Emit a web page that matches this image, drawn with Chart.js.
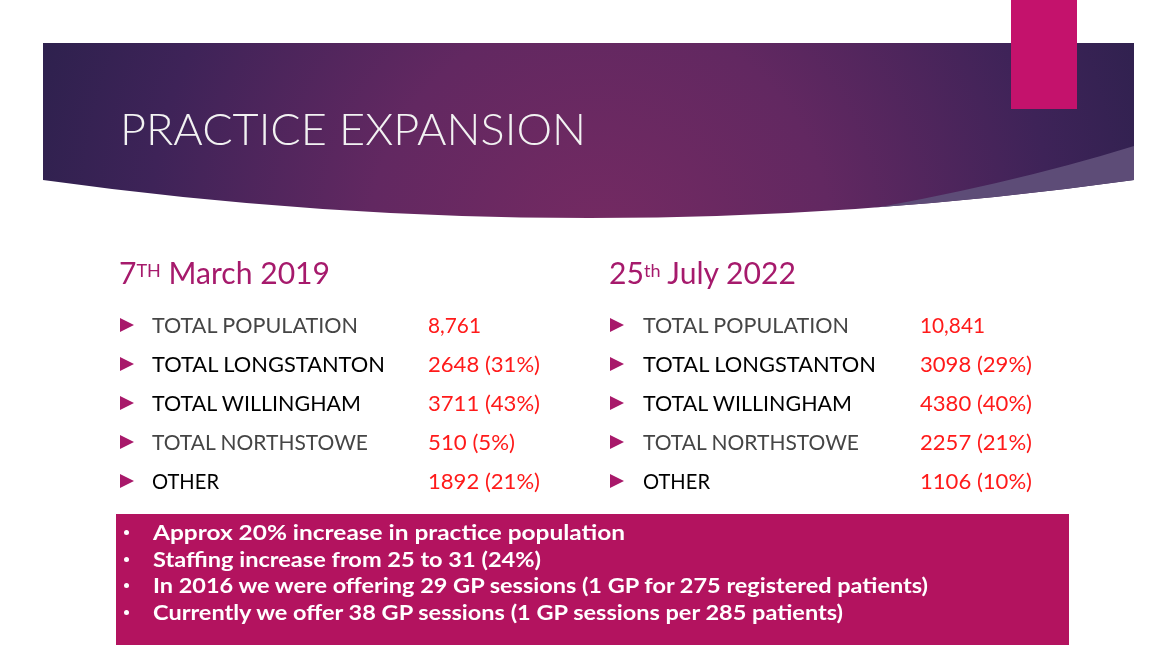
<!DOCTYPE html>
<html>
<head>
<meta charset="utf-8">
<script src="https://cdn.jsdelivr.net/npm/chart.js@4/dist/chart.umd.min.js"></script>
<style>
  html,body{margin:0;padding:0;background:#fff;}
  body{width:1176px;height:658px;position:relative;overflow:hidden;font-family:"Lato","Open Sans",sans-serif;}
  #bg{position:absolute;left:0;top:0;}
  .t{position:absolute;white-space:nowrap;display:inline-block;transform-origin:0 50%;}
  .title{color:#f2f2f2;font-weight:300;font-size:44px;}
  .head{color:#a61a6c;font-size:30px;font-weight:400;}
  .head sup{font-size:18px;vertical-align:top;position:relative;top:-2px;}
  .lab{font-size:22px;font-weight:400;}
  .val{font-size:22px;color:#ff1a1a;font-weight:400;}
  .tri{position:absolute;width:0;height:0;border-top:7px solid transparent;border-bottom:7px solid transparent;border-left:14px solid #a8196a;}
  .note{color:#fff;font-weight:700;font-size:21px;}
  .dot{position:absolute;width:5px;height:5px;border-radius:50%;background:#fff;}
</style>
</head>
<body>
<canvas id="bg" width="1176" height="658"></canvas>
<div id="layer"></div>
<script>
// ---- data ----
const titleText = 'PRACTICE EXPANSION';
const headLeft = ['7', 'TH', ' March 2019'];
const headRight = ['25', 'th', ' July 2022'];
const rowLabels = ['TOTAL POPULATION', 'TOTAL LONGSTANTON', 'TOTAL WILLINGHAM', 'TOTAL NORTHSTOWE', 'OTHER'];
const rowGrey = [true, false, false, true, false];
const values2019 = ['8,761', '2648 (31%)', '3711 (43%)', '510 (5%)', '1892 (21%)'];
const values2022 = ['10,841', '3098 (29%)', '4380 (40%)', '2257 (21%)', '1106 (10%)'];
const notes = [
  'Approx 20% increase in practice population',
  'Staffing increase from 25 to 31 (24%)',
  'In 2016 we were offering 29 GP sessions (1 GP for 275 registered patients)',
  'Currently we offer 38 GP sessions (1 GP sessions per 285 patients)'
];

// ---- background drawn through Chart.js canvas ----
const slidePlugin = {
  id: 'slide',
  beforeDraw(chart) {
    const c = chart.ctx;
    c.save();
    // banner
    c.beginPath();
    c.moveTo(43, 43); c.lineTo(1134, 43); c.lineTo(1134, 180);
    c.quadraticCurveTo(590, 256, 43, 180);
    c.closePath();
    const g = c.createRadialGradient(600, 250, 10, 600, 230, 640);
    g.addColorStop(0, '#742a62');
    g.addColorStop(0.35, '#622861');
    g.addColorStop(0.7, '#3e2358');
    g.addColorStop(1, '#28204a');
    c.fillStyle = g; c.fill();
    // lighter band at lower right
    c.save();
    c.clip();
    c.beginPath();
    c.moveTo(840, 214);
    c.quadraticCurveTo(1010, 185, 1140, 144);
    c.lineTo(1140, 260); c.lineTo(840, 260); c.closePath();
    c.fillStyle = '#5d4c77'; c.fill();
    c.restore();
    // pink tab
    c.fillStyle = '#c4126c';
    c.fillRect(1011, 0, 66, 109);
    // bottom box
    c.fillStyle = '#b3135f';
    c.fillRect(116, 514, 953, 131);
    c.restore();
  }
};
new Chart(document.getElementById('bg'), {
  type: 'line',
  data: { labels: [], datasets: [] },
  options: {
    responsive: false, animation: false, devicePixelRatio: 1,
    plugins: { legend: { display: false }, tooltip: { enabled: false } },
    scales: { x: { display: false }, y: { display: false } }
  },
  plugins: [slidePlugin]
});

// ---- text layer ----
const layer = document.getElementById('layer');
const fits = [];
function addText(cls, html, x, cy, w, lh, color) {
  const d = document.createElement('div');
  d.className = 't ' + cls;
  d.innerHTML = html;
  d.style.left = x + 'px';
  d.style.lineHeight = lh + 'px';
  d.style.top = (cy - lh / 2) + 'px';
  if (color) d.style.color = color;
  layer.appendChild(d);
  if (w) fits.push([d, w]);
  return d;
}
addText('title', titleText, 120, 128, 466, 50);
addText('head', headLeft[0] + '<sup>' + headLeft[1] + '</sup>' + headLeft[2], 119, 272, 211, 40);
addText('head', headRight[0] + '<sup>' + headRight[1] + '</sup>' + headRight[2], 609, 272, 187, 40);

const rowY = [325, 364, 403, 442, 481];
const labW = [206, 233, 209, 216, 67];
const v19W = [53, 112, 112, 87, 112];
const v22W = [65, 112, 112, 112, 112];
function column(triX, textX, valX, vals, vw) {
  rowLabels.forEach((lab, i) => {
    const t = document.createElement('div');
    t.className = 'tri';
    t.style.left = triX + 'px';
    t.style.top = (rowY[i] - 7) + 'px';
    layer.appendChild(t);
    addText('lab', lab, textX, rowY[i], labW[i], 30, rowGrey[i] ? '#454545' : '#000');
    addText('val', vals[i], valX, rowY[i], vw[i], 30);
  });
}
column(120, 152, 428, values2019, v19W);
column(610, 643, 920, values2022, v22W);

const noteY = [532, 559, 585, 612];
const noteW = [472, 388, 775, 690];
notes.forEach((n, i) => {
  const d = document.createElement('div');
  d.className = 'dot';
  d.style.left = '124px';
  d.style.top = (noteY[i] - 2) + 'px';
  layer.appendChild(d);
  addText('note', n, 153, noteY[i], noteW[i], 26);
});

function doFit() {
  fits.forEach(([el, w]) => {
    el.style.transform = 'none';
    const nat = el.getBoundingClientRect().width;
    if (nat > 0) el.style.transform = 'scaleX(' + (w / nat) + ')';
  });
}
doFit();
if (document.fonts && document.fonts.ready) document.fonts.ready.then(doFit);
</script>
</body>
</html>
